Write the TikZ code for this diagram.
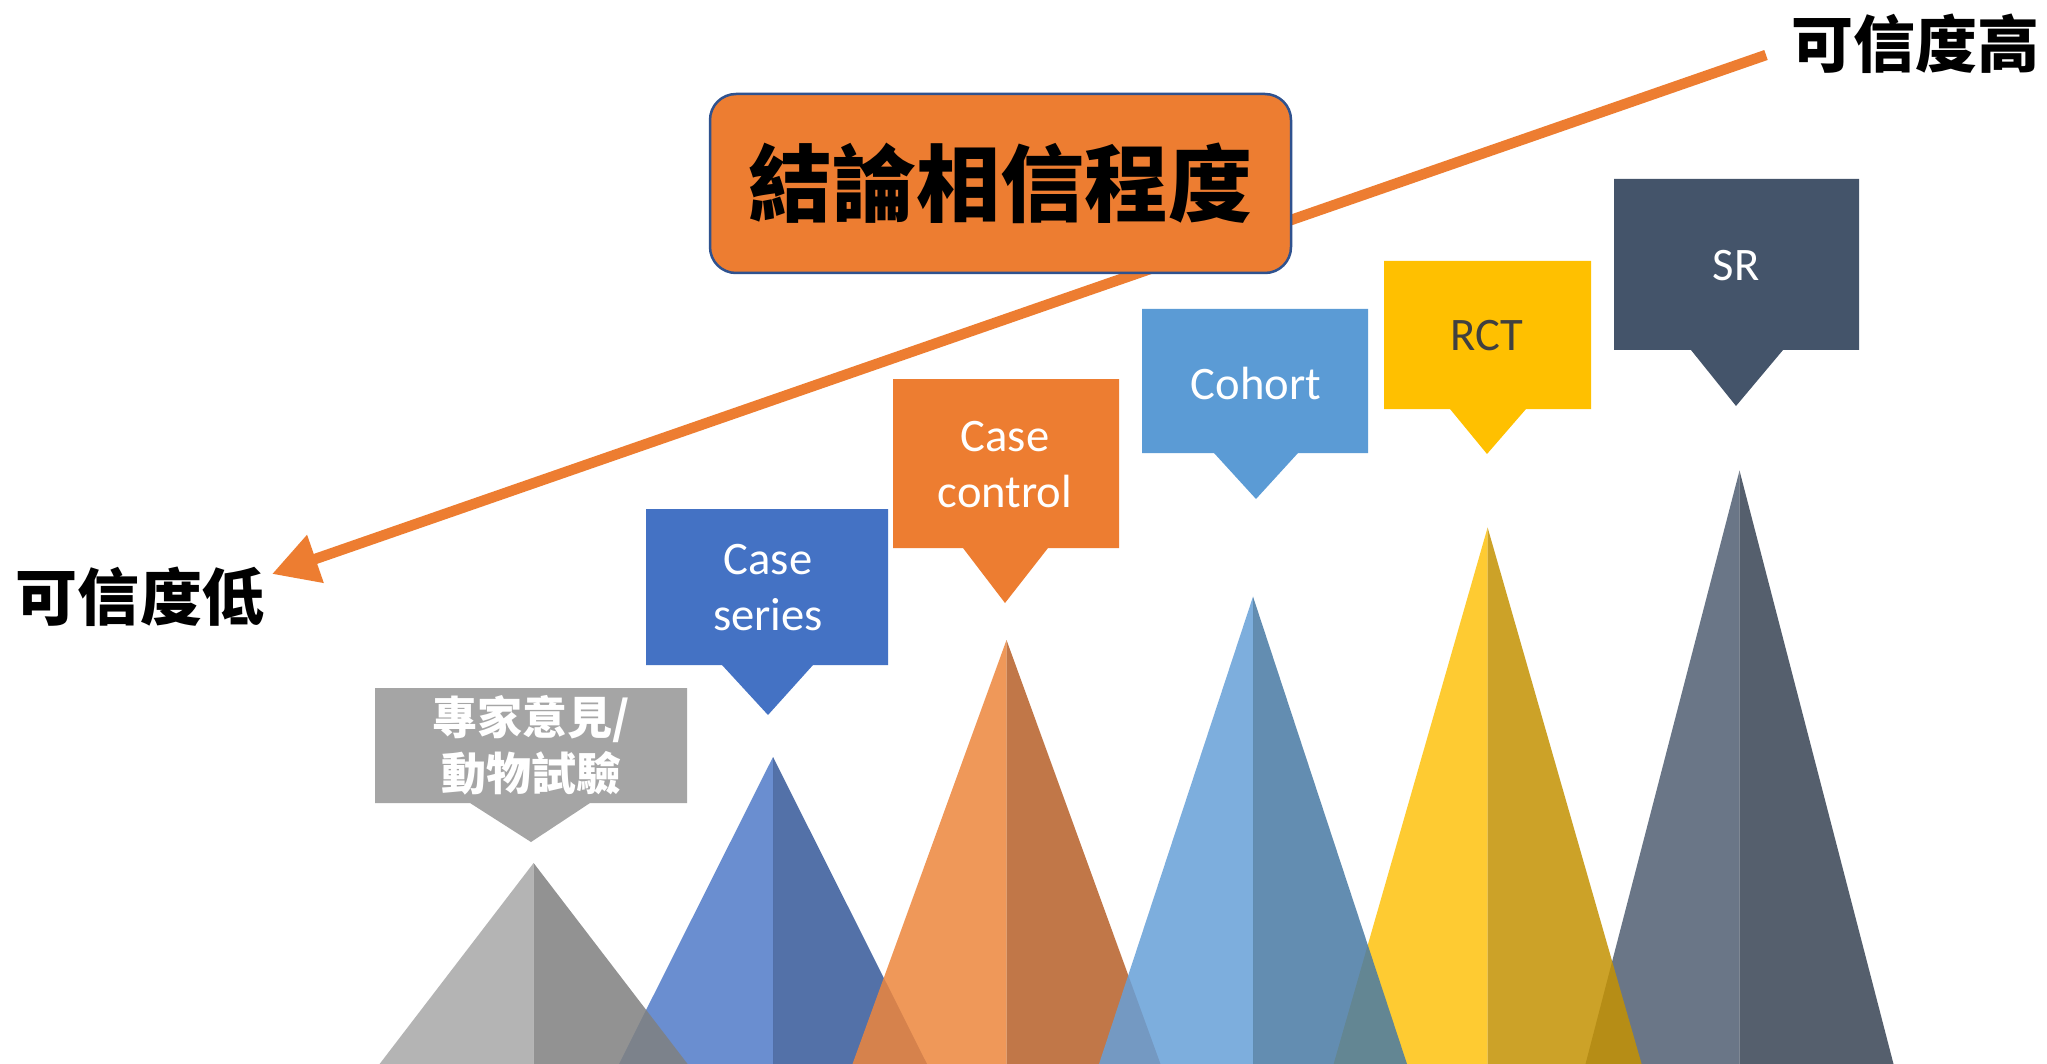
\documentclass[tikz,border=0pt]{standalone}
\usepackage{fontspec}
\setmainfont{Carlito}
\newfontfamily\cjk{Noto Sans CJK TC}
\usetikzlibrary{arrows.meta}
\definecolor{cgray}{HTML}{A5A5A5}
\definecolor{cblue}{HTML}{4472C4}
\definecolor{corange}{HTML}{ED7D31}
\definecolor{clblue}{HTML}{5B9BD5}
\definecolor{cyellow}{HTML}{FFC000}
\definecolor{cdark}{HTML}{44546A}
\definecolor{tborder}{HTML}{2F528F}
\definecolor{rcttext}{HTML}{404040}
\definecolor{grayL}{HTML}{A8A8A8}\definecolor{grayR}{HTML}{808080}
\definecolor{blueL}{HTML}{507BC8}\definecolor{blueR}{HTML}{365999}
\definecolor{orangeL}{HTML}{ED863D}\definecolor{orangeR}{HTML}{B76028}
\definecolor{lblueL}{HTML}{67A0D8}\definecolor{lblueR}{HTML}{487AA4}
\definecolor{yellowL}{HTML}{FEC30F}\definecolor{yellowR}{HTML}{C49203}
\definecolor{darkL}{HTML}{505F73}\definecolor{darkR}{HTML}{384354}
\newcommand\mypeak[4]{%
  \fill[#3, fill opacity=0.85] (#1,#2) -- (#1-154,1064) -- (#1,1064) -- cycle;
  \fill[#4, fill opacity=0.85] (#1,#2) -- (#1+154,1064) -- (#1,1064) -- cycle;}
\begin{document}
\begin{tikzpicture}[x=1pt,y=-1pt,
  lbl/.style={text=white, font=\fontsize{46.6}{56}\selectfont, align=center, inner sep=0pt},
  cjklbl/.style={text=white, font=\cjk\bfseries\fontsize{45}{56}\selectfont, align=center, inner sep=0pt},
  endtext/.style={text=black, font=\cjk\bfseries\fontsize{62}{62}\selectfont, inner sep=0pt}]
\useasboundingbox[fill=white] (0,0) rectangle (2047,1064);
% peaks (stacking order as in the reference)
\mypeak{1739.5}{470.6}{darkL}{darkR}
\mypeak{1487.6}{527.5}{yellowL}{yellowR}
\mypeak{773}{757}{blueL}{blueR}
\mypeak{533.6}{863}{grayL}{grayR}
\mypeak{1006.5}{640}{orangeL}{orangeR}
\mypeak{1253}{596.6}{lblueL}{lblueR}
% callouts
\fill[cgray] (375,688) -- (687,688) -- (687,803) -- (590,803) -- (531,842) -- (470,803) -- (375,803) -- cycle;
\node[cjklbl] (expert) at (531,745) {專家意見/\\動物試驗};
\fill[cblue] (646,509) -- (888,509) -- (888,665) -- (813,665) -- (768,715) -- (722,665) -- (646,665) -- cycle;
\node[lbl] (series) at (768,588) {Case\\series};
\fill[corange] (893,379) -- (1119,379) -- (1119,548) -- (1048,548) -- (1005,603) -- (963,548) -- (893,548) -- cycle;
\node[lbl] (control) at (1005,465) {Case\\control};
\fill[clblue] (1142,309) -- (1368,309) -- (1368,453) -- (1298,453) -- (1256,499) -- (1214,453) -- (1142,453) -- cycle;
\node[lbl] (cohort) at (1256,383) {Cohort};
\fill[cyellow] (1384,261) -- (1591,261) -- (1591,409) -- (1526,409) -- (1487,454) -- (1450,409) -- (1384,409) -- cycle;
\node[lbl, text=rcttext] (rct) at (1487,336) {RCT};
\fill[cdark] (1614,179) -- (1859,179) -- (1859,350) -- (1783,350) -- (1736,406) -- (1691,350) -- (1614,350) -- cycle;
\node[lbl] (sr) at (1736,266) {SR};
% arrow
\coordinate (hi) at (1766,55);
\coordinate (lo) at (272,574);
\draw[corange, line width=10.5pt, -{Triangle[length=46pt,width=48pt]}] (hi) -- (lo);
% title
\node[draw=tborder, line width=2.5pt, fill=corange, rounded corners=26pt,
  minimum width=581pt, minimum height=179pt, inner sep=0pt,
  font=\cjk\bfseries\fontsize{84}{84}\selectfont] (title) at (1000.5,183.5) {結論相信程度};
\node[endtext] (high) at (1915,44) {可信度高};
\node[endtext] (low) at (140,597) {可信度低};
\end{tikzpicture}
\end{document}
